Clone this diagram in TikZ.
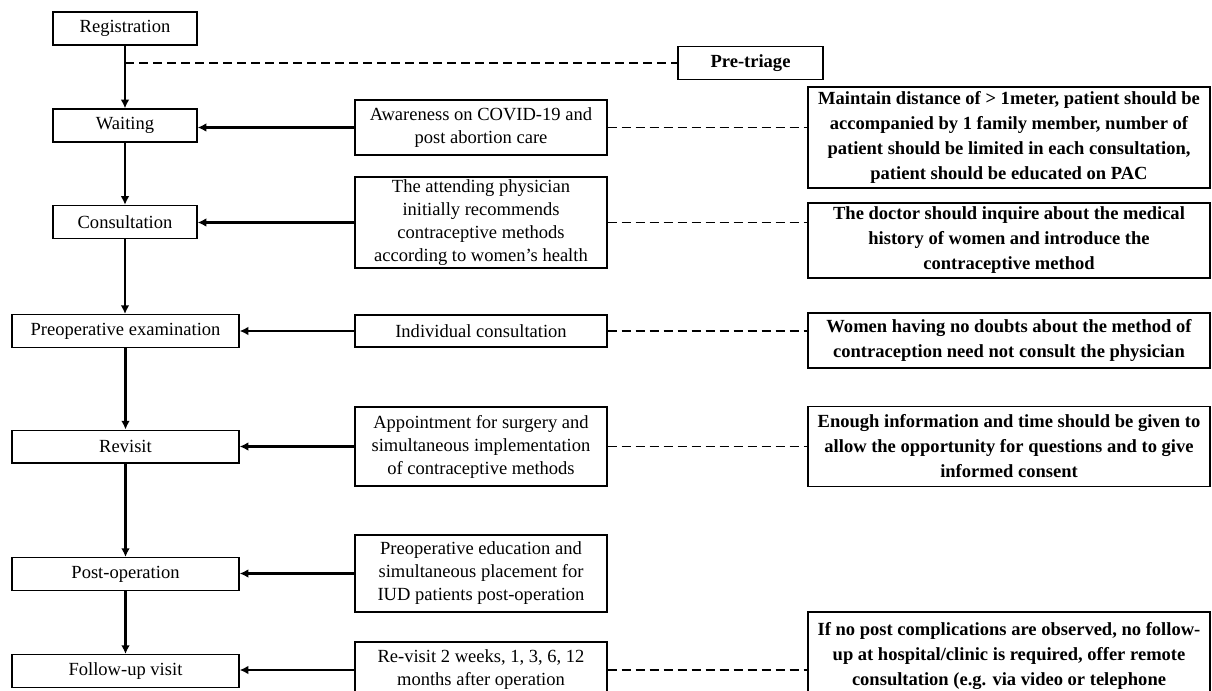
\documentclass[tikz,border=0pt]{standalone}
\usepackage{fontspec}
\setmainfont{Liberation Serif}
\usetikzlibrary{arrows.meta}
\newcommand\nfnt{\fontsize{13.9pt}{17.25pt}\selectfont}
\newcommand\bfnt{\fontsize{13.9pt}{18.75pt}\selectfont\bfseries}
\tikzset{
 box/.style={draw, line width=1pt, fill=white, align=center, inner sep=0pt, font=\nfnt},
 lbox/.style={box, minimum width=108pt, minimum height=24.75pt},
 wbox/.style={box, minimum width=170.25pt, minimum height=24.5pt},
 mbox/.style={box, minimum width=189pt},
 rbox/.style={box, minimum width=301.5pt, font=\bfnt},
 flow/.style={line width=1.6pt, -{Latex[length=6.5pt,width=6.5pt]}},
 link/.style={line width=0.9pt, dash pattern=on 7pt off 3.5pt},
}
\begin{document}
\begin{tikzpicture}[x=0.75pt,y=-0.75pt]
\useasboundingbox (0,0) rectangle (1212,691);
% left column
\node[lbox] (reg) at (125,28.5) {Registration};
\node[lbox] (wait) at (125,125.5) {Waiting};
\node[lbox] (cons) at (125,222) {Consultation};
\node[wbox] (preop) at (125.5,331) {Preoperative examination};
\node[wbox] (revis) at (125.5,446.5) {Revisit};
\node[wbox] (post) at (125.5,574) {Post-operation};
\node[wbox] (follow) at (125.5,671) {Follow-up visit};
% pre-triage
\node[box, font=\bfnt, minimum width=108.75pt, minimum height=24.75pt] (tri) at (750.5,63) {Pre-triage};
% middle column
\node[mbox, minimum height=41.25pt] (aware) at (481,127.5) {Awareness on COVID-19 and\\post abortion care};
\node[mbox, minimum height=68.25pt] (attend) at (481,222.5) {The attending physician\\initially recommends\\contraceptive methods\\according to women’s health};
\node[mbox, minimum height=24pt] (indiv) at (481,331) {Individual consultation};
\node[mbox, minimum height=59.25pt] (appoint) at (481,446.5) {Appointment for surgery and\\simultaneous implementation\\of contraceptive methods};
\node[mbox, minimum height=57.75pt] (educ) at (481,573.5) {Preoperative education and\\simultaneous placement for\\IUD patients post-operation};
\node[mbox, minimum height=42pt] (revis2) at (481,670) {Re-visit 2 weeks, 1, 3, 6, 12\\months after operation};
% right column
\node[rbox, minimum height=75.75pt] (maint) at (1009,137.5) {Maintain distance of > 1meter, patient should be\\accompanied by 1 family member, number of\\patient should be limited in each consultation,\\patient should be educated on PAC};
\node[rbox, minimum height=56.25pt] (doctor) at (1009,240.5) {The doctor should inquire about the medical\\history of women and introduce the\\contraceptive method};
\node[rbox, minimum height=41.25pt] (women) at (1009,340.5) {Women having no doubts about the method of\\contraception need not consult the physician};
\node[rbox, minimum height=60pt] (enough) at (1009,446.5) {Enough information and time should be given to\\allow the opportunity for questions and to give\\informed consent};
\node[rbox, minimum height=66pt] (ifno) at (1009,656) {If no post complications are observed, no follow-\\up at hospital/clinic is required, offer remote\\consultation (e.g. via video or telephone};
% vertical flow
\draw[flow] (reg.south) -- (reg.south |- wait.north);
\draw[flow] (wait.south) -- (wait.south |- cons.north);
\draw[flow] (cons.south) -- (cons.south |- preop.north);
\draw[flow] (preop.south) -- (preop.south |- revis.north);
\draw[flow] (revis.south) -- (revis.south |- post.north);
\draw[flow] (post.south) -- (post.south |- follow.north);
% horizontal arrows
\draw[flow] (aware.west) -- (aware.west -| wait.east);
\draw[flow] (attend.west) -- (attend.west -| cons.east);
\draw[flow] (indiv.west) -- (indiv.west -| preop.east);
\draw[flow] (appoint.west) -- (appoint.west -| revis.east);
\draw[flow] (educ.west) -- (educ.west -| post.east);
\draw[flow] (revis2.west) -- (revis2.west -| follow.east);
% dashed links
\coordinate (tj) at (reg.south |- tri.west);
\draw[link] (tj) -- (tri.west);
\draw[link] (aware.east) -- (aware.east -| maint.west);
\draw[link] (attend.east) -- (attend.east -| doctor.west);
\draw[link] (indiv.east) -- (indiv.east -| women.west);
\draw[link] (appoint.east) -- (appoint.east -| enough.west);
\draw[link] (revis2.east) -- (revis2.east -| ifno.west);
\end{tikzpicture}
\end{document}
